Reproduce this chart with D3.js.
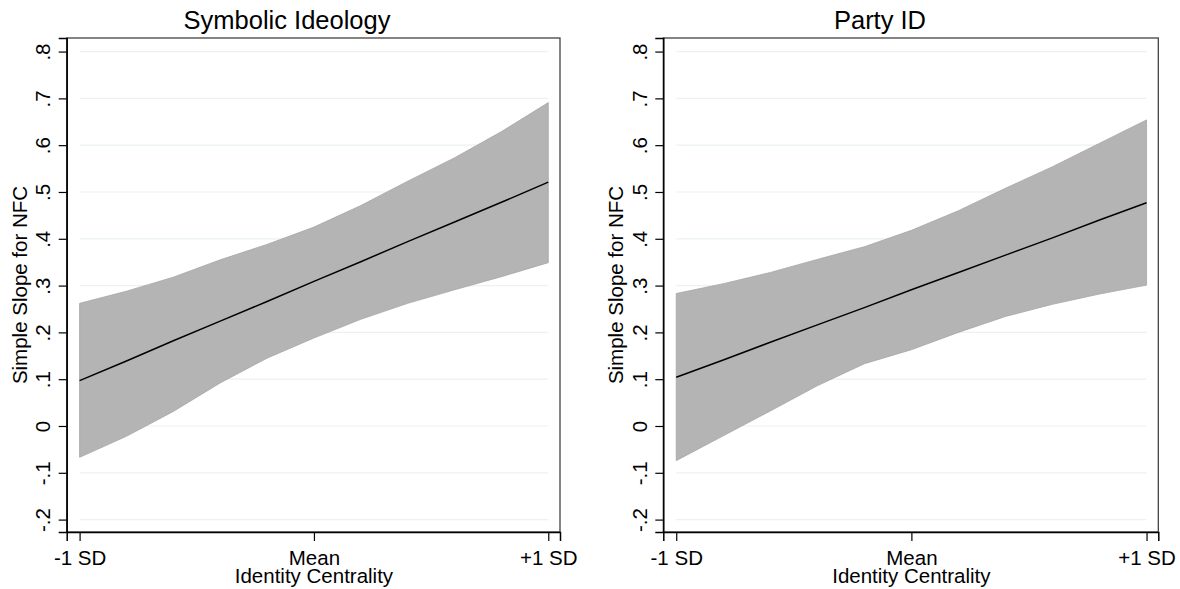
<!DOCTYPE html>
<html>
<head>
<meta charset="utf-8">
<script src="https://cdn.jsdelivr.net/npm/d3@7"></script>
<style>
  html, body { margin: 0; padding: 0; background: #fff; }
  svg { display: block; }
  text { font-family: "Liberation Sans", Arial, sans-serif; fill: #000; }
</style>
</head>
<body>
<svg id="chart" width="1180" height="589"></svg>
<script>
// ---------- data ----------
const xPoints = [-1, -0.8, -0.6, -0.4, -0.2, 0, 0.2, 0.4, 0.6, 0.8, 1];

const ideologySlope = [0.097, 0.139, 0.182, 0.224, 0.266, 0.309, 0.351, 0.394, 0.436, 0.478, 0.521];
const ideologyUpper = [0.262, 0.288, 0.318, 0.355, 0.388, 0.425, 0.471, 0.523, 0.573, 0.629, 0.691];
const ideologyLower = [-0.067, -0.022, 0.031, 0.092, 0.145, 0.188, 0.228, 0.262, 0.291, 0.319, 0.349];

const partySlope = [0.104, 0.141, 0.179, 0.216, 0.253, 0.291, 0.328, 0.365, 0.402, 0.440, 0.477];
const partyUpper = [0.283, 0.304, 0.328, 0.356, 0.383, 0.418, 0.460, 0.508, 0.554, 0.604, 0.654];
const partyLower = [-0.074, -0.021, 0.032, 0.086, 0.133, 0.163, 0.200, 0.234, 0.260, 0.282, 0.301];

const panelTitles = ["Symbolic Ideology", "Party ID"];
const xTickValues = [-1, 0, 1];
const xTickLabels = ["-1 SD", "Mean", "+1 SD"];
const yTickValues = [-0.2, -0.1, 0, 0.1, 0.2, 0.3, 0.4, 0.5, 0.6, 0.7, 0.8];
const yTickLabels = ["-.2", "-.1", "0", ".1", ".2", ".3", ".4", ".5", ".6", ".7", ".8"];
const xAxisTitle = "Identity Centrality";
const yAxisTitle = "Simple Slope for NFC";

// ---------- layout ----------
const svg = d3.select("#chart");
const panels = [
  { title: panelTitles[0], slope: ideologySlope, upper: ideologyUpper, lower: ideologyLower,
    left: 66.7, right: 560, titleX: 287 },
  { title: panelTitles[1], slope: partySlope, upper: partyUpper, lower: partyLower,
    left: 663.3, right: 1158.3, titleX: 880 }
];
const plotTop = 38, plotBottom = 532;
const FONT = '"Liberation Sans", Arial, sans-serif';

panels.forEach(p => {
  const g = svg.append("g");
  const x = d3.scaleLinear().domain([-1.055, 1.05]).range([p.left, p.right]);
  const y = d3.scaleLinear().domain([-0.2265, 0.829]).range([plotBottom, plotTop]);

  // gridlines
  g.append("g").selectAll("line").data(yTickValues).join("line")
    .attr("x1", x(-1)).attr("x2", x(1))
    .attr("y1", d => y(d)).attr("y2", d => y(d))
    .attr("stroke", "#eaf2f3").attr("stroke-width", 1.2);

  const rows = xPoints.map((xv, i) => ({ x: xv, s: p.slope[i], u: p.upper[i], l: p.lower[i] }));

  // confidence band
  const area = d3.area().x(d => x(d.x)).y0(d => y(d.l)).y1(d => y(d.u));
  g.append("path").datum(rows).attr("d", area)
    .attr("fill", "#b4b4b4").attr("stroke", "#a6a6a6").attr("stroke-width", 0.8);

  // slope line
  const line = d3.line().x(d => x(d.x)).y(d => y(d.s));
  g.append("path").datum(rows).attr("d", line)
    .attr("fill", "none").attr("stroke", "#000").attr("stroke-width", 1.5);

  // frame
  g.append("rect").attr("x", p.left).attr("y", plotTop)
    .attr("width", p.right - p.left).attr("height", plotBottom - plotTop)
    .attr("fill", "none").attr("stroke", "#333").attr("stroke-width", 1.2);

  // y axis
  const yAxis = d3.axisLeft(y).tickValues(yTickValues)
    .tickFormat((d, i) => yTickLabels[i]).tickSize(8).tickPadding(8);
  const ya = g.append("g").attr("transform", `translate(${p.left},0)`).call(yAxis);
  ya.select(".domain").attr("stroke", "#000").attr("stroke-width", 1.5);
  ya.selectAll(".tick line").attr("stroke", "#000").attr("stroke-width", 1.2);
  ya.selectAll(".tick text")
    .attr("x", null).attr("dy", null)
    .attr("transform", "translate(-16.7,0) rotate(-90)")
    .attr("text-anchor", "middle")
    .style("font-size", "20.5px")
    .style("font-family", FONT)
    .attr("fill", "#000");

  // x axis
  const xAxis = d3.axisBottom(x).tickValues(xTickValues)
    .tickFormat((d, i) => xTickLabels[i]).tickSize(9).tickPadding(4);
  const xa = g.append("g").attr("transform", `translate(0,${plotBottom})`).call(xAxis);
  xa.select(".domain").attr("stroke", "#000").attr("stroke-width", 1.5);
  xa.selectAll(".tick line").attr("stroke", "#000").attr("stroke-width", 1.2);
  xa.selectAll(".tick text")
    .attr("dy", null).attr("y", 32.5)
    .style("font-size", "20.5px")
    .style("font-family", FONT)
    .attr("fill", "#000");

  // axis titles
  g.append("text").attr("x", x(0)).attr("y", 583.3)
    .attr("text-anchor", "middle").style("font-size", "20.5px").text(xAxisTitle);
  g.append("text")
    .attr("transform", `translate(${p.left - 40},${(plotTop + plotBottom) / 2}) rotate(-90)`)
    .attr("text-anchor", "middle").style("font-size", "20.5px").text(yAxisTitle);

  // panel title
  g.append("text").attr("x", p.titleX).attr("y", 29.3)
    .attr("text-anchor", "middle").style("font-size", "25.5px").text(p.title);
});
</script>
</body>
</html>
